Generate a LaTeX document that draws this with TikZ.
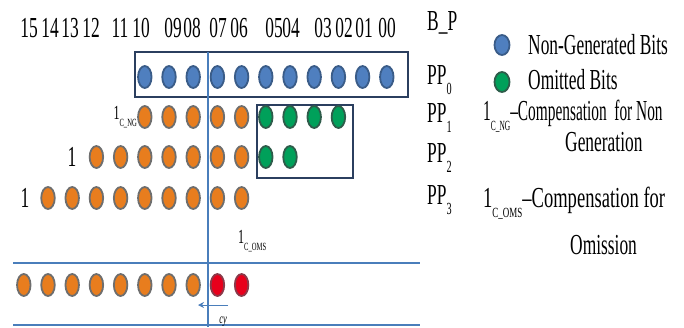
\documentclass[tikz,border=0pt]{standalone}
\usepackage{fontspec}
\setmainfont{Liberation Serif}
\usetikzlibrary{shapes.geometric,arrows.meta}
\definecolor{dblue}{HTML}{4F7FBF}
\definecolor{dblueL}{HTML}{3A5C88}
\definecolor{dorange}{HTML}{E87D1E}
\definecolor{dorangeL}{HTML}{6E6E6E}
\definecolor{dgreen}{HTML}{00A05A}
\definecolor{dgreenL}{HTML}{2E5C4A}
\definecolor{dred}{HTML}{E8001C}
\definecolor{dredL}{HTML}{8B3A4A}
\definecolor{rule}{HTML}{4A7EBB}
\definecolor{boxc}{HTML}{2B3F5F}
\newcommand{\cz}[1]{\scalebox{0.6}[1]{#1}}
\newcommand{\czn}[1]{\scalebox{0.53}[1]{#1}}
\newcommand{\czo}[1]{\scalebox{0.64}[1]{#1}}
\newcommand{\subt}[1]{\raisebox{-0.35em}{\fontsize{17}{17}\selectfont #1}}
\newcommand{\subm}[1]{\raisebox{-0.35em}{\fontsize{14}{14}\selectfont #1}}
\newcommand{\subs}[1]{\raisebox{-0.35em}{\fontsize{11}{11}\selectfont #1}}
\begin{document}
\begin{tikzpicture}[x=1pt,y=-1pt,
  dot/.style={ellipse,minimum width=13.5,minimum height=22,inner sep=0,line width=1.8},
  bdot/.style={dot,fill=dblue,draw=dblueL},
  odot/.style={dot,fill=dorange,draw=dorangeL},
  gdot/.style={dot,fill=dgreen,draw=dgreenL},
  rdot/.style={dot,fill=dred,draw=dredL},
  lbl/.style={font=\fontsize{29}{30}\selectfont,inner sep=0},
  small/.style={font=\fontsize{20}{20}\selectfont,inner sep=0},
  rl/.style={draw=rule,line width=2},
  bx/.style={draw=boxc,line width=2.4}]
\useasboundingbox (0,0) rectangle (684,327);
\fill[white] (0,0) rectangle (684,327);
% header numbers
\foreach \t/\x in {15/29,14/50,13/70,12/91,11/120,10/141,09/173,08/192,07/218,06/239,05/274,04/291,03/323,02/344,01/364,00/387}
  \node[lbl] (h\t) at (\x,28) {\cz{\t}};
% boxes
\draw[bx] (135,52) rectangle (408,97);
\draw[bx] (257,105) rectangle (353,178);
% rule lines
\draw[rl] (208,52) -- (208,327);
\draw[rl] (13,263) -- (420,263);
\draw[rl] (13,325) -- (420,325);
% PP0
\foreach \c in {4,...,14} \node[bdot] (a\c) at ({48+24.2*\c},77) {};
% PP1
\foreach \c in {4,...,8} \node[odot] (b\c) at ({48+24.2*\c},117) {};
\foreach \c in {9,...,12} \node[gdot] (b\c) at ({48+24.2*\c},117) {};
% PP2
\foreach \c in {2,...,8} \node[odot] (c\c) at ({48+24.2*\c},157) {};
\foreach \c in {9,10} \node[gdot] (c\c) at ({48+24.2*\c},157) {};
% PP3
\foreach \c in {0,...,8} \node[odot] (d\c) at ({48+24.2*\c},198) {};
% result
\foreach \c in {-1,...,6} \node[odot] (e\c) at ({48+24.2*\c},285) {};
\foreach \c in {7,8} \node[rdot] (e\c) at ({48+24.2*\c},285) {};
% row labels
\node[small,anchor=east] (cng) at (137,117) {\cz{1\subs{C\_NG}}};
\node[lbl] (one2) at (72,157) {\cz{1}};
\node[lbl] (one3) at (25,198) {\cz{1}};
\node[small,anchor=west] (coms) at (238,241) {\cz{1\subs{C\_OMS}}};
% carry arrow
\coordinate (ca) at (228,305);
\coordinate (cb) at (198,305);
\draw[draw=rule,line width=0.9,-{Stealth[length=6,width=6]}] (ca) -- (cb);
\node[font=\fontsize{14}{14}\selectfont,inner sep=0] (cy) at (223,322) {\cz{\textit{cy}}};
% legend
\node[lbl,anchor=west] (bp) at (427,23) {\cz{B\_P}};
\node[lbl,anchor=west] (pp0) at (427,80) {\cz{PP\subt{0}}};
\node[lbl,anchor=west] (pp1) at (427,118) {\cz{PP\subt{1}}};
\node[lbl,anchor=west] (pp2) at (427,158) {\cz{PP\subt{2}}};
\node[lbl,anchor=west] (pp3) at (427,200) {\cz{PP\subt{3}}};
\node[bdot,minimum width=15,minimum height=20] (lb) at (502,45) {};
\node[lbl,anchor=west] (tb) at (528,45) {\cz{Non-Generated Bits}};
\node[gdot,minimum width=15,minimum height=20] (lg) at (502,82) {};
\node[lbl,anchor=west] (tg) at (528,80) {\cz{Omitted Bits}};
\node[lbl,anchor=west] (tn) at (483,116) {\czn{1\subm{C\_NG}--Compensation\ \ for Non}};
\node[lbl,anchor=west] (tn2) at (565,142) {\cz{Generation}};
\node[lbl,anchor=west] (to) at (483,203) {\czo{1\subm{C\_OMS}--Compensation for}};
\node[lbl,anchor=west] (to2) at (570,245) {\cz{Omission}};
\end{tikzpicture}
\end{document}
